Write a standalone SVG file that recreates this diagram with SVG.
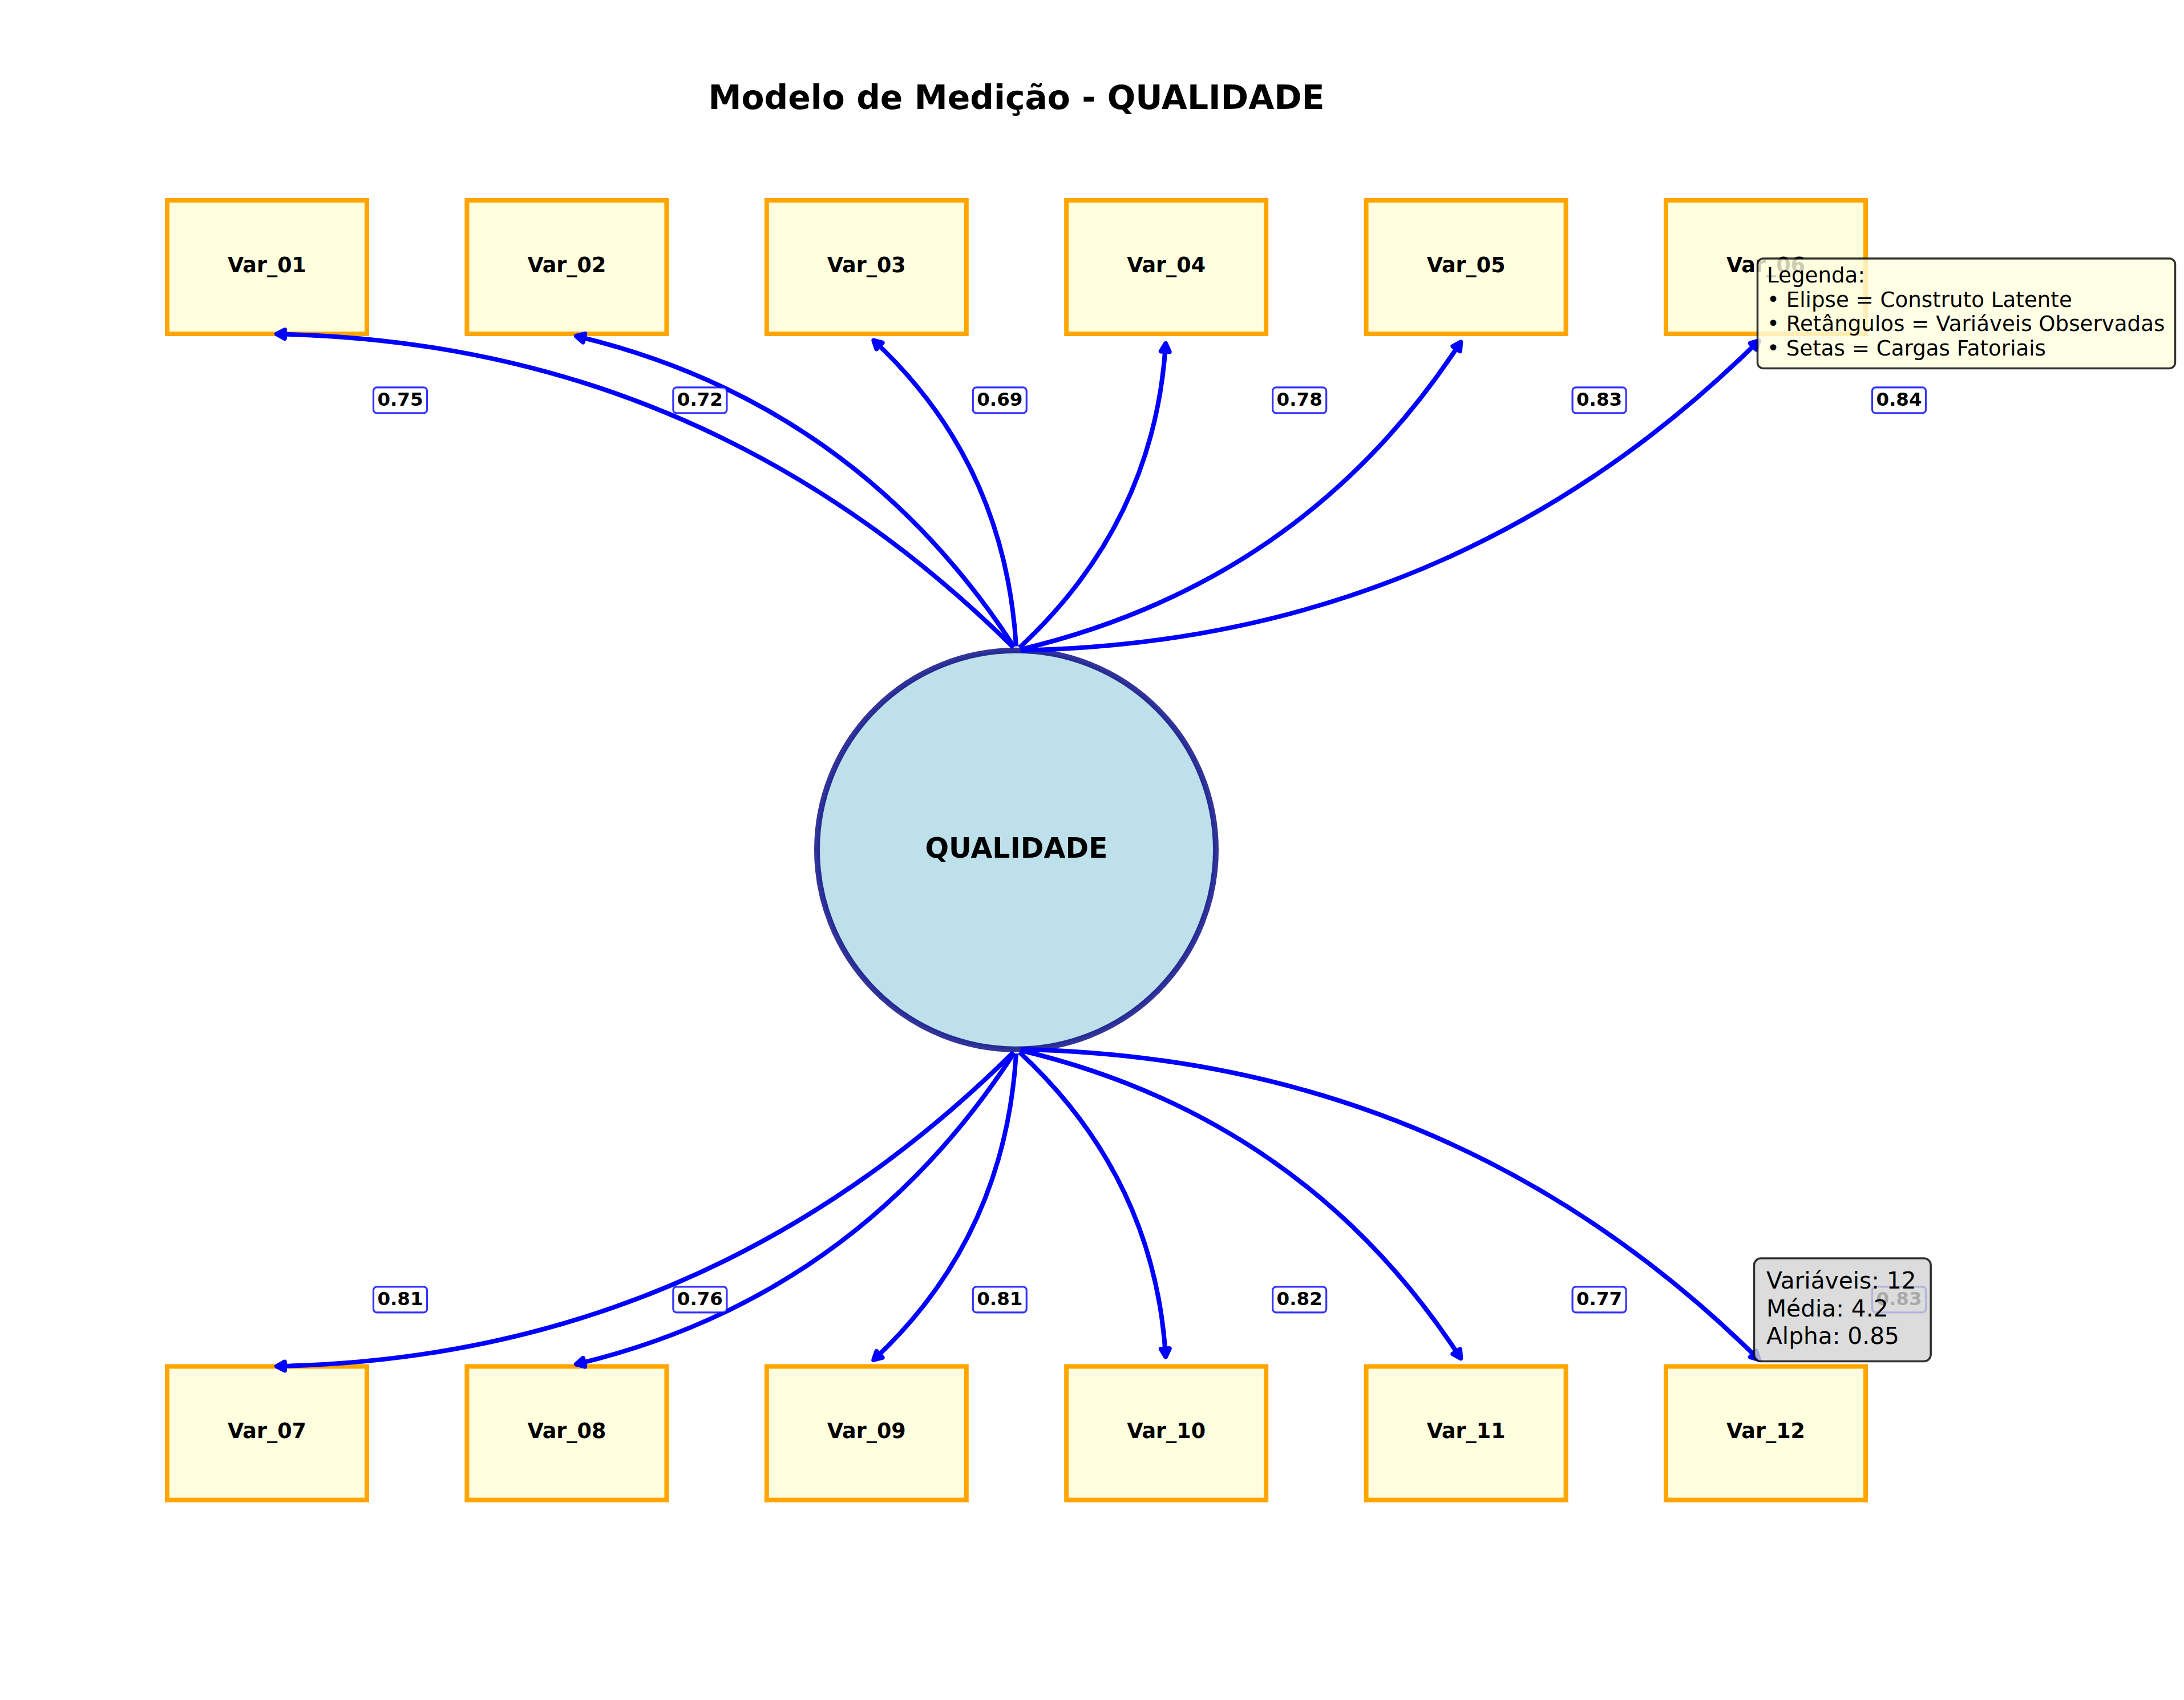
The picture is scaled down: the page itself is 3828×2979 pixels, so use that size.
<svg xmlns="http://www.w3.org/2000/svg" width="3828" height="2979" viewBox="0 0 3828 2979">
<defs>
<style>
text{font-family:"DejaVu Sans","Liberation Sans",sans-serif;fill:#000}
.title{font-size:58.3px;font-weight:bold;text-anchor:middle}
.var rect{fill:#FFFFE0;stroke:#FFA500;stroke-width:8}
.var text{font-size:36.5px;font-weight:bold;text-anchor:middle}
.lat{font-size:49px;font-weight:bold;text-anchor:middle}
.conn path{fill:none;stroke:#0000FF;stroke-width:8;marker-end:url(#ah)}
.lbl rect{fill:#FFFFFF;fill-opacity:0.8;stroke:#0000FF;stroke-opacity:0.8;stroke-width:3.2}
.lbl text{font-size:32.5px;font-weight:bold;text-anchor:middle}
.box{stroke:#000;stroke-opacity:0.8;stroke-width:3.5}
.leg{font-size:37.2px}
.stat{font-size:40.7px}
</style>
<marker id="ah" markerUnits="userSpaceOnUse" markerWidth="40" markerHeight="40" refX="0" refY="0" orient="auto" overflow="visible">
<path d="M0,0 L-14,-7.5 L-14,7.5 Z" fill="#0000FF" stroke="#0000FF" stroke-width="8" stroke-linejoin="round"/>
</marker>
</defs>
<rect x="0" y="0" width="3828" height="2979" fill="#FFFFFF"/>
<text class="title" x="1781.5" y="191">Modelo de Medição - QUALIDADE</text>

<g id="construct">
<circle cx="1781.5" cy="1489.3" r="349.5" fill="#ADD8E6" fill-opacity="0.8" stroke="#000080" stroke-opacity="0.8" stroke-width="10"/>
<text class="lat" x="1781.5" y="1503">QUALIDADE</text>
</g>

<g id="var_01" class="var"><rect x="293" y="351" width="350" height="234"/><text x="468" y="477">Var_01</text></g>
<g id="var_02" class="var"><rect x="818.4" y="351" width="350" height="234"/><text x="993.4" y="477">Var_02</text></g>
<g id="var_03" class="var"><rect x="1343.8" y="351" width="350" height="234"/><text x="1518.8" y="477">Var_03</text></g>
<g id="var_04" class="var"><rect x="1869.2" y="351" width="350" height="234"/><text x="2044.2" y="477">Var_04</text></g>
<g id="var_05" class="var"><rect x="2394.6" y="351" width="350" height="234"/><text x="2569.6" y="477">Var_05</text></g>
<g id="var_06" class="var"><rect x="2920" y="351" width="350" height="234"/><text x="3095" y="477">Var_06</text></g>
<g id="var_07" class="var"><rect x="293" y="2394.5" width="350" height="234"/><text x="468" y="2520">Var_07</text></g>
<g id="var_08" class="var"><rect x="818.4" y="2394.5" width="350" height="234"/><text x="993.4" y="2520">Var_08</text></g>
<g id="var_09" class="var"><rect x="1343.8" y="2394.5" width="350" height="234"/><text x="1518.8" y="2520">Var_09</text></g>
<g id="var_10" class="var"><rect x="1869.2" y="2394.5" width="350" height="234"/><text x="2044.2" y="2520">Var_10</text></g>
<g id="var_11" class="var"><rect x="2394.6" y="2394.5" width="350" height="234"/><text x="2569.6" y="2520">Var_11</text></g>
<g id="var_12" class="var"><rect x="2920" y="2394.5" width="350" height="234"/><text x="3095" y="2520">Var_12</text></g>

<g id="connectors" class="conn">
<path d="M1776.31,1134.67 Q1235.71,599.7 485.0,585.33"/>
<path d="M1777.52,1133.68 Q1498.41,704.78 1009.94,588.92"/>
<path d="M1781.05,1132.51 Q1761.11,809.86 1531.26,596.56"/>
<path d="M1786.85,1134.83 Q2023.81,914.94 2043.15,601.97"/>
<path d="M1788.60,1138.12 Q2286.51,1020.02 2560.33,599.25"/>
<path d="M1788.80,1139.66 Q2549.21,1125.1 3082.92,596.96"/>
<path d="M1776.31,1843.94 Q1235.89,2379.35 485.0,2394.16"/>
<path d="M1777.52,1844.92 Q1498.59,2274.27 1009.94,2390.56"/>
<path d="M1781.05,1846.09 Q1761.29,2169.19 1531.25,2382.93"/>
<path d="M1786.85,1843.77 Q2023.99,2064.11 2043.16,2377.53"/>
<path d="M1788.60,1840.49 Q2286.69,1959.03 2560.34,2380.24"/>
<path d="M1788.80,1838.94 Q2549.39,1853.95 3082.92,2382.54"/>
</g>

<g id="loadings" class="lbl">
<rect x="654.5" y="678.9" width="94" height="45" rx="6"/><text x="701.5" y="710.7">0.75</text>
<rect x="1179.9" y="678.9" width="94" height="45" rx="6"/><text x="1226.9" y="710.7">0.72</text>
<rect x="1705.3" y="678.9" width="94" height="45" rx="6"/><text x="1752.3" y="710.7">0.69</text>
<rect x="2230.7" y="678.9" width="94" height="45" rx="6"/><text x="2277.7" y="710.7">0.78</text>
<rect x="2756.1" y="678.9" width="94" height="45" rx="6"/><text x="2803.1" y="710.7">0.83</text>
<rect x="3281.5" y="678.9" width="94" height="45" rx="6"/><text x="3328.5" y="710.7">0.84</text>
<rect x="654.5" y="2254.8" width="94" height="45" rx="6"/><text x="701.5" y="2287.3">0.81</text>
<rect x="1179.9" y="2254.8" width="94" height="45" rx="6"/><text x="1226.9" y="2287.3">0.76</text>
<rect x="1705.3" y="2254.8" width="94" height="45" rx="6"/><text x="1752.3" y="2287.3">0.81</text>
<rect x="2230.7" y="2254.8" width="94" height="45" rx="6"/><text x="2277.7" y="2287.3">0.82</text>
<rect x="2756.1" y="2254.8" width="94" height="45" rx="6"/><text x="2803.1" y="2287.3">0.77</text>
<rect x="3281.5" y="2254.8" width="94" height="45" rx="6"/><text x="3328.5" y="2287.3">0.83</text>
</g>

<g id="legend">
<rect class="box" x="3080.5" y="453" width="732" height="192.5" rx="10" fill="#FFFFE0" fill-opacity="0.8"/>
<text class="leg" x="3097" y="495.4">Legenda:</text>
<text class="leg" x="3097" y="537.6">• Elipse = Construto Latente</text>
<text class="leg" x="3097" y="580.3">• Retângulos = Variáveis Observadas</text>
<text class="leg" x="3097" y="622.5">• Setas = Cargas Fatoriais</text>
</g>

<g id="stats">
<rect class="box" x="3074.5" y="2205" width="309.7" height="180.5" rx="12" fill="#D3D3D3" fill-opacity="0.8"/>
<text class="stat" x="3096" y="2258.3">Variáveis: 12</text>
<text class="stat" x="3096" y="2306.7">Média: 4.2</text>
<text class="stat" x="3096" y="2355">Alpha: 0.85</text>
</g>
</svg>
